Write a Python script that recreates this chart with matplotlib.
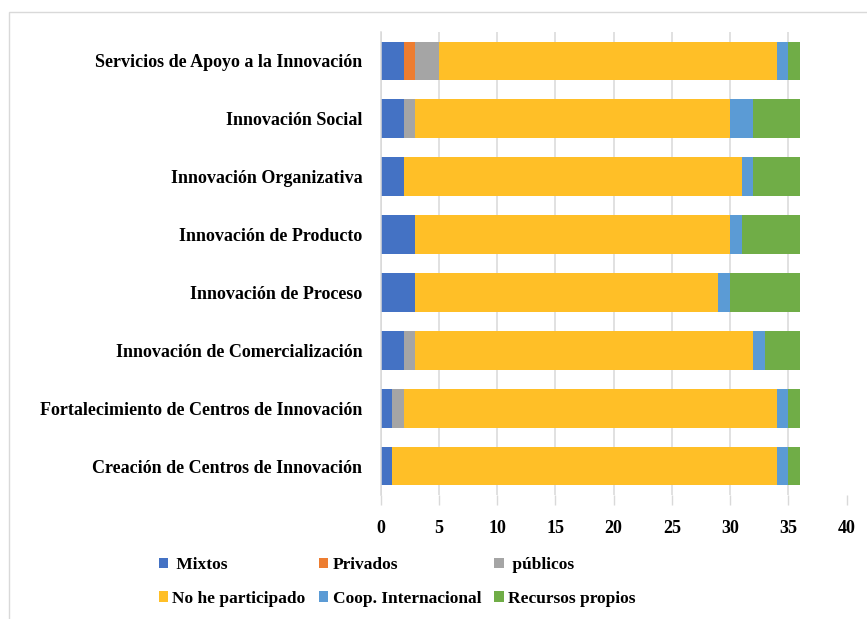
import matplotlib.pyplot as plt
import numpy as np
from matplotlib.patches import Rectangle

# Datos (de abajo hacia arriba)
categorias = [
    'Creación de Centros de Innovación',
    'Fortalecimiento de Centros de Innovación',
    'Innovación de Comercialización',
    'Innovación de Proceso',
    'Innovación de Producto',
    'Innovación Organizativa',
    'Innovación Social',
    'Servicios de Apoyo a la Innovación',
]
mixtos = [1, 1, 2, 3, 3, 2, 2, 2]
privados = [0, 0, 0, 0, 0, 0, 0, 1]
publicos = [0, 1, 1, 0, 0, 0, 1, 2]
no_participado = [33, 32, 29, 26, 27, 29, 27, 29]
coop_internacional = [1, 1, 1, 1, 1, 1, 2, 1]
recursos_propios = [1, 1, 3, 6, 5, 4, 4, 1]

series = [
    (' Mixtos', mixtos, '#4472C4'),
    ('Privados', privados, '#ED7D31'),
    (' públicos', publicos, '#A5A5A5'),
    ('No he participado', no_participado, '#FFBF27'),
    ('Coop. Internacional', coop_internacional, '#5B9BD5'),
    ('Recursos propios', recursos_propios, '#70AD47'),
]

plt.rcParams['font.family'] = ['Liberation Serif', 'DejaVu Serif']
plt.rcParams['font.weight'] = 'bold'

fig = plt.figure(figsize=(8.67, 6.19), dpi=100)
ax = fig.add_axes([380.5 / 867, 1 - 495 / 619, 466 / 867, 463 / 619])

y = np.arange(len(categorias))
left = np.zeros(len(categorias))
handles = []
for label, vals, color in series:
    vals = np.array(vals, dtype=float)
    b = ax.barh(y, vals, left=left, height=0.67, color=color, label=label, linewidth=0)
    handles.append(b)
    left += vals

ax.set_xlim(0, 40)
ax.set_ylim(-0.5, 7.5)
ax.set_xticks(np.arange(0, 41, 5))
ax.set_yticks(y)
ax.set_yticklabels(categorias, fontsize=13, fontweight='bold')
ax.tick_params(axis='y', length=0, pad=13)
ax.tick_params(axis='x', length=7, color='#D9D9D9', width=1, pad=11, labelsize=13)
for t in ax.get_xticklabels():
    t.set_fontweight('bold')

ax.xaxis.grid(True, color='#D9D9D9', linewidth=1.1)
ax.set_axisbelow(True)
for s in ['top', 'right', 'bottom']:
    ax.spines[s].set_visible(False)
ax.spines['left'].set_color('#D9D9D9')
ax.spines['left'].set_linewidth(1.1)

# Leyenda por filas
order = [0, 3, 1, 4, 2, 5]
leg = fig.legend([handles[i] for i in order], [series[i][0] for i in order],
                 loc='center', bbox_to_anchor=(0.458, 0.06), ncol=3, frameon=False,
                 prop={'family': 'Liberation Serif', 'weight': 'bold', 'size': 12.5},
                 handlelength=0.55, handleheight=0.55, handletextpad=0.25,
                 columnspacing=0.75, labelspacing=1.0)

# Marco
fig.add_artist(Rectangle((9 / 867, -0.1), 1.2, 1.1 - 12 / 619, transform=fig.transFigure,
                         fill=False, edgecolor='#D9D9D9', linewidth=1))

plt.savefig('out.png', dpi=100)
plt.close()
